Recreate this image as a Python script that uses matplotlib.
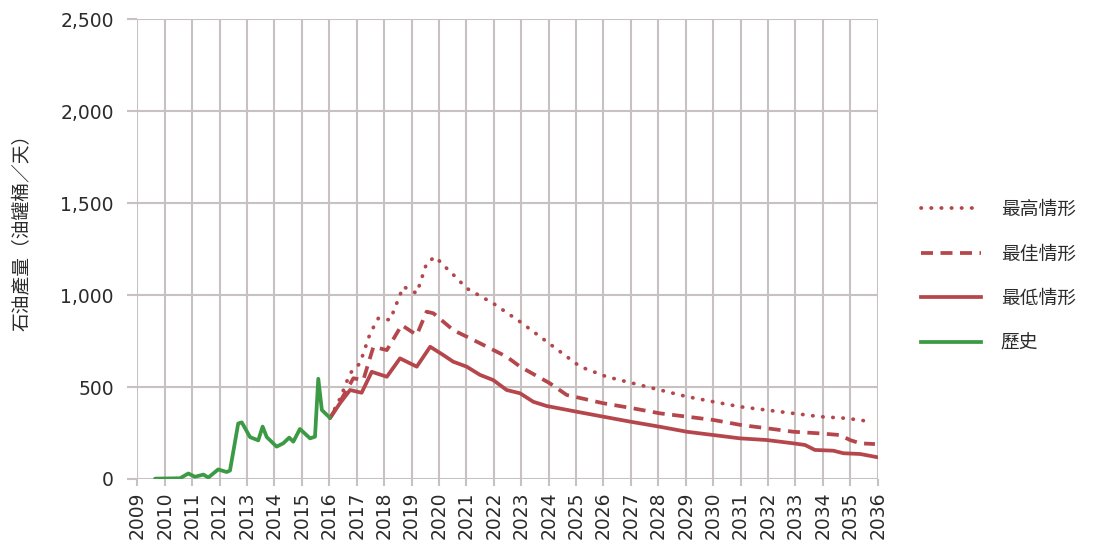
import matplotlib
matplotlib.use("Agg")
import matplotlib.pyplot as plt
from matplotlib.lines import Line2D

# ---- data ----
hist_x = [2009.65, 2010.56, 2010.86, 2011.10, 2011.41, 2011.59, 2011.95, 2012.26, 2012.38,
          2012.68, 2012.81, 2013.11, 2013.41, 2013.57, 2013.72, 2014.08, 2014.32, 2014.54,
          2014.69, 2014.93, 2015.30, 2015.48, 2015.60, 2015.73, 2016.03]
hist_y = [2, 4, 30, 12, 24, 8, 52, 38, 46, 302, 308, 228, 210, 285, 228, 176, 194, 225,
          203, 272, 221, 230, 545, 375, 332]

low_x = [2016.03, 2016.39, 2016.76, 2017.18, 2017.55, 2018.10, 2018.58, 2019.19, 2019.68,
         2020.16, 2020.52, 2021.01, 2021.50, 2021.98, 2022.47, 2022.96, 2023.44, 2023.93,
         2025.02, 2025.99, 2026.97, 2028.06, 2029.04, 2030.01, 2030.98, 2031.95, 2032.92,
         2033.35, 2033.71, 2034.38, 2034.75, 2035.36, 2036.0]
low_y = [332, 412, 484, 469, 583, 556, 656, 611, 719, 674, 638, 611, 566, 538, 484, 466,
         420, 397, 366, 339, 312, 284, 257, 239, 221, 212, 194, 185, 158, 154, 140, 136, 118]

best_x = [2016.03, 2016.39, 2016.88, 2017.24, 2017.61, 2018.10, 2018.64, 2019.19, 2019.55,
          2019.80, 2020.52, 2021.50, 2022.47, 2022.96, 2024.05, 2024.66, 2025.99, 2027.09,
          2028.06, 2029.04, 2030.01, 2031.00, 2031.95, 2032.92, 2033.90, 2034.63, 2034.99,
          2035.36, 2035.90]
best_y = [332, 420, 548, 538, 719, 701, 837, 783, 910, 901, 810, 738, 665, 611, 520, 457,
          412, 384, 357, 339, 321, 294, 276, 257, 248, 239, 212, 194, 190]

high_x = [2016.03, 2016.40, 2016.76, 2017.12, 2017.49, 2017.79, 2018.22, 2018.70, 2019.19,
          2019.55, 2019.86, 2020.28, 2020.60, 2021.01, 2021.98, 2022.96, 2023.93, 2025.15,
          2026.12, 2027.09, 2028.06, 2029.04, 2030.01, 2030.98, 2031.95, 2032.92, 2033.90,
          2034.87, 2035.75]
high_y = [332, 440, 575, 629, 792, 874, 865, 1046, 1010, 1173, 1209, 1146, 1100, 1037, 955,
          855, 747, 611, 556, 520, 484, 448, 420, 393, 375, 357, 339, 330, 312]

years = list(range(2009, 2037))
yticks = [0, 500, 1000, 1500, 2000, 2500]
ylabel = "石油產量（油罐桶／天）"
labels = ["最高情形", "最佳情形", "最低情形", "歷史"]

# ---- style ----
RED = "#b5474c"
GREEN = "#3c9a45"
GRID = "#c8c1c1"
TXT = "#2b2b2b"
CJK = ["Noto Sans CJK TC", "DejaVu Sans"]

fig = plt.figure(figsize=(10.93, 5.51), dpi=100)
ax = fig.add_axes([137.3 / 1093, 1 - 479 / 551, (877.7 - 137.3) / 1093, (479 - 19.3) / 551])

lw = 2.7
ax.plot(high_x, high_y, color=RED, lw=lw, linestyle=(0, (0.1, 2.6)), dash_capstyle="round")
ax.plot(best_x, best_y, color=RED, lw=lw, linestyle=(0, (3.2, 2.0)), dash_capstyle="butt")
ax.plot(low_x, low_y, color=RED, lw=lw, solid_capstyle="round")
ax.plot(hist_x, hist_y, color=GREEN, lw=lw, solid_capstyle="round")

ax.set_xlim(2009, 2036)
ax.set_ylim(0, 2500)
ax.set_xticks(years)
ax.set_xticklabels([str(y) for y in years], rotation=90, fontsize=13.5, color=TXT,
                   family="DejaVu Sans")
ax.set_yticks(yticks)
ax.set_yticklabels([f"{v:,}" for v in yticks], fontsize=13.5, color=TXT, family="DejaVu Sans")
ax.grid(True, color=GRID, lw=1.5)
ax.set_axisbelow(True)
for s in ax.spines.values():
    s.set_visible(False)
ax.tick_params(axis="y", length=7, width=1.5, color=GRID, pad=10)
ax.tick_params(axis="x", length=5, width=1.5, color=GRID, pad=4)

fig.text(22 / 1093, 1 - 228 / 551, ylabel, rotation=90, ha="center", va="center",
         fontsize=13.5, color=TXT, family=CJK)

handles = [
    Line2D([], [], color=RED, lw=lw, linestyle=(0, (0.1, 2.6)), dash_capstyle="round"),
    Line2D([], [], color=RED, lw=lw, linestyle=(0, (3.2, 2.0))),
    Line2D([], [], color=RED, lw=lw),
    Line2D([], [], color=GREEN, lw=lw),
]
fig.legend(handles, labels, loc="upper left", bbox_to_anchor=(921 / 1093, 1 - 199 / 551),
           frameon=False, prop={"family": CJK, "size": 13.5}, handlelength=3.2,
           handletextpad=1.05, labelspacing=1.25, borderpad=0, borderaxespad=0,
           labelcolor=TXT)

fig.savefig("out.png", dpi=100, facecolor="white")
